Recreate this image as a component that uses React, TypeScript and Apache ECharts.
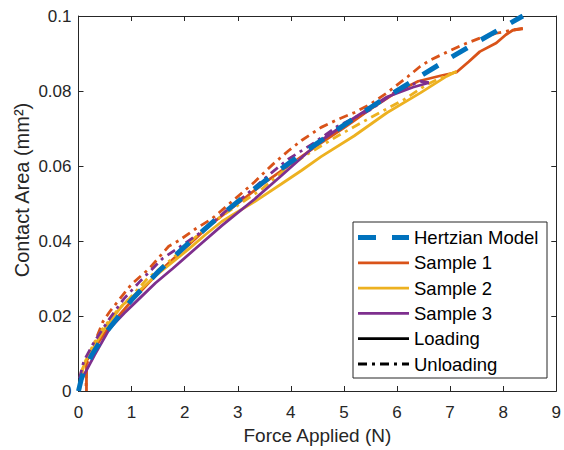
import React, { useEffect, useRef } from "react";
import * as echarts from "echarts";

const xTicks = [0, 1, 2, 3, 4, 5, 6, 7, 8, 9];
const yTicks = [0, 0.02, 0.04, 0.06, 0.08, 0.1];
const xTitle = "Force Applied (N)";
const yTitle = "Contact Area (mm²)";

const hertzian: number[][] = [
  [0, 0], [0.05, 0.0030], [0.1, 0.0052], [0.25, 0.0096], [0.5, 0.0153], [1, 0.0243], [1.5, 0.0318], [2, 0.0385],
  [2.5, 0.0447], [3, 0.0505], [3.5, 0.0559], [4, 0.0611], [4.5, 0.0661], [5, 0.0709],
  [5.5, 0.0756], [6, 0.0801], [6.5, 0.0845], [7, 0.0888], [7.5, 0.0930], [8, 0.0970], [8.37, 0.1],
];

const s1Load: number[][] = [
  [0.15, 0], [0.15, 0.008], [0.3, 0.0115], [0.6, 0.0175], [1.0, 0.024], [1.5, 0.0315], [2.0, 0.038],
  [2.5, 0.0445], [3.0, 0.05], [3.5, 0.0555], [4.0, 0.0605], [4.5, 0.0655], [5.0, 0.0702], [5.5, 0.0752],
  [6.0, 0.0798], [6.4, 0.0826], [6.8, 0.084], [7.12, 0.085], [7.35, 0.0878], [7.56, 0.0905],
  [7.87, 0.0928], [8.05, 0.095], [8.18, 0.0962], [8.37, 0.0967],
];
const s1Unload: number[][] = [
  [8.37, 0.0966], [8.18, 0.0963], [7.87, 0.0954], [7.56, 0.0941], [7.25, 0.0924], [6.93, 0.0903],
  [6.62, 0.0882], [6.44, 0.0866], [6.2, 0.0838], [5.81, 0.0795], [5.5, 0.0765], [5.19, 0.0742],
  [4.9, 0.0725], [4.57, 0.0703], [4.2, 0.0668], [3.95, 0.064], [3.65, 0.0603], [3.32, 0.0558],
  [2.89, 0.0505], [2.51, 0.0459], [2.2, 0.0432], [1.89, 0.0401], [1.7, 0.0386], [1.33, 0.0326],
  [1.0, 0.0285], [0.83, 0.0255], [0.58, 0.021], [0.46, 0.0185], [0.3, 0.0128], [0.2, 0.0095],
  [0.15, 0.0065], [0.14, 0],
];
const s2Load: number[][] = [
  [0.02, 0], [0.05, 0.005], [0.15, 0.0085], [0.3, 0.012], [0.5, 0.0168], [0.83, 0.0229], [1.15, 0.0268],
  [1.46, 0.0308], [2.08, 0.0379], [2.4, 0.0418], [2.7, 0.0452], [3.0, 0.0478], [3.32, 0.0505],
  [3.82, 0.0552], [4.2, 0.0588], [4.57, 0.0625], [5.19, 0.068], [5.81, 0.0742], [6.44, 0.0795],
  [6.93, 0.0839], [7.12, 0.0852],
];
const s2Unload: number[][] = [
  [7.12, 0.0852], [6.9, 0.084], [6.56, 0.0817], [6.13, 0.0777], [5.5, 0.0729], [4.88, 0.068],
  [4.26, 0.0627], [3.9, 0.0592], [3.45, 0.0538], [2.7, 0.0467], [2.2, 0.041], [1.77, 0.0353],
  [1.3, 0.03], [0.96, 0.0247], [0.7, 0.021], [0.45, 0.0165], [0.25, 0.0115], [0.1, 0.007],
  [0.03, 0.002], [0.0, 0],
];
const s3Load: number[][] = [
  [0, 0], [0.05, 0.003], [0.15, 0.0055], [0.3, 0.0095], [0.59, 0.0167], [0.865, 0.0208], [1.15, 0.0247],
  [1.45, 0.0288], [1.77, 0.0326], [2.27, 0.0388], [2.7, 0.0441], [3.32, 0.0512], [3.82, 0.0574],
  [4.2, 0.0622], [4.57, 0.0668], [5.19, 0.0728], [5.81, 0.0784], [6.3, 0.081], [6.6, 0.0822],
];
const s3Unload: number[][] = [
  [6.6, 0.0822], [6.44, 0.0826], [6.2, 0.0812], [5.94, 0.0795], [5.5, 0.075], [4.88, 0.0706],
  [4.44, 0.0662], [3.95, 0.0618], [3.6, 0.0578], [3.14, 0.0521], [2.89, 0.0494], [2.39, 0.0432],
  [1.95, 0.0388], [1.58, 0.0353], [1.15, 0.0291], [0.85, 0.0245], [0.59, 0.0194], [0.3, 0.0132],
  [0.1, 0.008], [0.03, 0.004], [0.0, 0.002],
];

const legendNames = ["Hertzian Model", "Sample 1", "Sample 2", "Sample 3", "Loading", "Unloading"];

const FONT = "'Liberation Sans', Arial, Helvetica, sans-serif";
const AX = "#262626";
const BLUE = "#0072BD";
const RED = "#D95319";
const YEL = "#EDB120";
const PUR = "#7E2F8E";
const DASHDOT = [9, 5, 3, 5];
const BLUEDASH = [18, 16];
const LW = 2.8;
const BLW = 5;

const legendColors = [BLUE, RED, YEL, PUR, "#000", "#000"];
const legendDash: any[] = [BLUEDASH, null, null, null, null, DASHDOT];
const legendWidth = [BLW, LW, LW, LW, LW, LW];

export default function App() {
  const ref = useRef<HTMLDivElement>(null);
  useEffect(() => {
    if (!ref.current) return;
    const chart = echarts.init(ref.current, null, { renderer: "svg" });
    const line = (name: string, data: number[][], color: string, dash: any, width = LW, z = 3) => ({
      type: "line",
      name,
      data,
      showSymbol: false,
      symbol: "none",
      z,
      lineStyle: { color, width, type: dash },
      itemStyle: { color },
    });
    const axisCommon = {
      min: 0,
      axisLine: { show: true, onZero: false, lineStyle: { color: AX, width: 1 } },
      axisTick: { show: true, inside: true, length: 5, lineStyle: { color: AX } },
      splitLine: { show: false },
    };
    const lx0 = 358, lx1 = 409, ltx = 414, ly0 = 237.5, lstep = 25.3;
    const graphics: any[] = [
      {
        type: "rect",
        z: 15,
        shape: { x: 353, y: 222, width: 194, height: 156 },
        style: { fill: "#fff", stroke: AX, lineWidth: 1 },
      },
      {
        type: "text",
        z: 16,
        x: 22,
        y: 190,
        rotation: Math.PI / 2,
        style: { text: yTitle, fill: AX, fontSize: 20, fontFamily: FONT, align: "center", verticalAlign: "middle" },
      },
    ];
    legendNames.forEach((n, i) => {
      const y = ly0 + i * lstep;
      graphics.push({
        type: "line",
        z: 16,
        shape: { x1: lx0, y1: y, x2: lx1, y2: y },
        style: { stroke: legendColors[i], lineWidth: legendWidth[i], lineDash: legendDash[i] || undefined },
      });
      graphics.push({
        type: "text",
        z: 16,
        x: ltx,
        y,
        style: { text: n, fill: "#000", fontSize: 18.5, fontFamily: FONT, verticalAlign: "middle", align: "left" },
      });
    });
    chart.setOption({
      animation: false,
      textStyle: { fontFamily: FONT },
      grid: { left: 78.5, right: 4, top: 16, bottom: 57 },
      xAxis: [
        {
          ...axisCommon,
          type: "value",
          max: 9,
          interval: 1,
          name: xTitle,
          nameLocation: "middle",
          nameGap: 35,
          nameTextStyle: { color: AX, fontSize: 19, fontFamily: FONT },
          axisLabel: { color: AX, fontSize: 17, margin: 13, fontFamily: FONT, formatter: (v: number) => (xTicks.includes(v) ? String(v) : "") },
        },
        { ...axisCommon, type: "value", max: 9, interval: 1, position: "top", axisLabel: { show: false } },
      ],
      yAxis: [
        {
          ...axisCommon,
          type: "value",
          max: 0.1,
          interval: 0.02,
          axisLabel: {
            color: AX, fontSize: 17, margin: 7, fontFamily: FONT,
            formatter: (v: number) => {
              const t = yTicks.find((y) => Math.abs(y - v) < 1e-9);
              return t === undefined ? "" : String(t);
            },
          },
        },
        { ...axisCommon, type: "value", max: 0.1, interval: 0.02, position: "right", axisLabel: { show: false } },
      ],
      graphic: graphics,
      series: [
        line("Sample 1", s1Load, RED, "solid"),
        line("Sample 1", s1Unload, RED, DASHDOT),
        line("Sample 2", s2Load, YEL, "solid"),
        line("Sample 2", s2Unload, YEL, DASHDOT),
        line("Sample 3", s3Load, PUR, "solid"),
        line("Sample 3", s3Unload, PUR, DASHDOT),
        line("Hertzian Model", hertzian, BLUE, BLUEDASH, BLW, 4),
      ],
    });
    return () => chart.dispose();
  }, []);
  return <div ref={ref} style={{ width: 564, height: 450, position: "absolute", left: 0, top: 0 }} />;
}
